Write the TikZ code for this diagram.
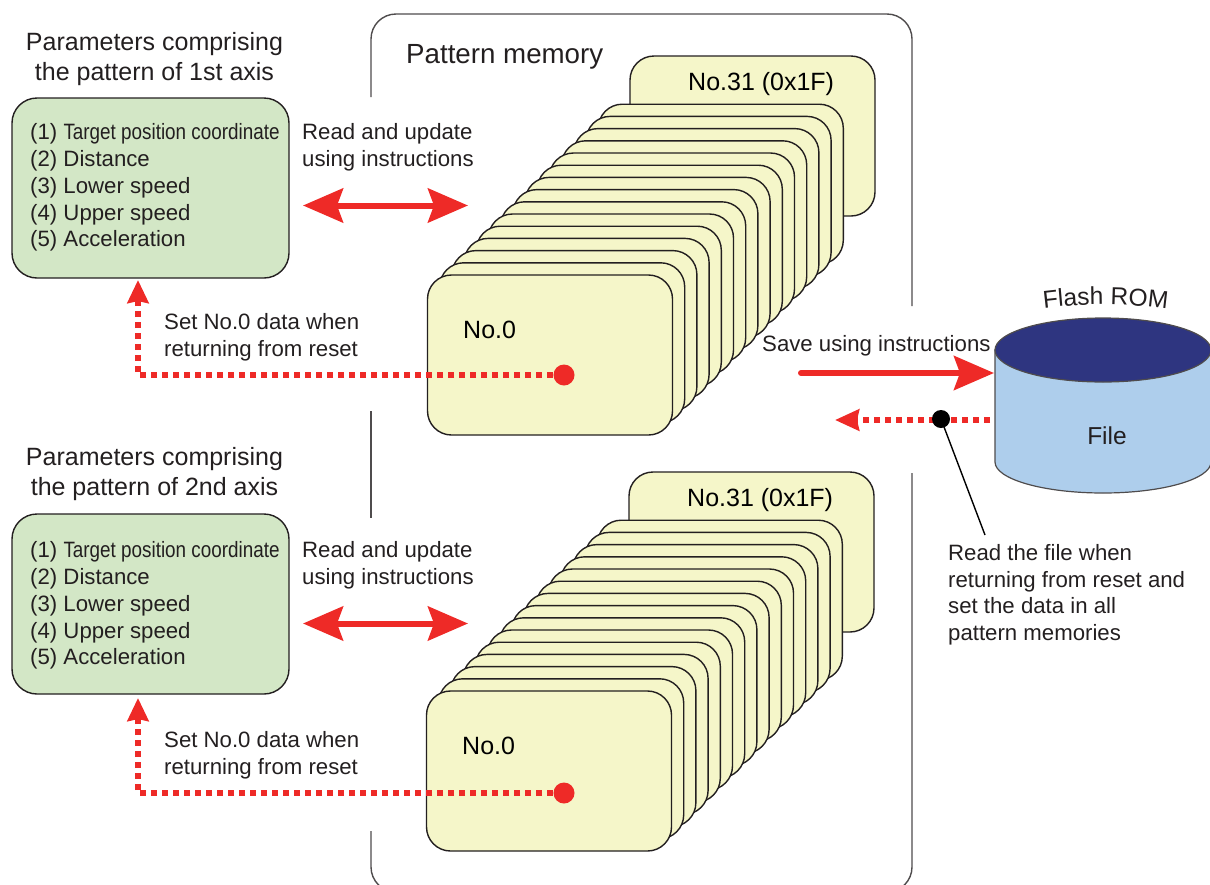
\documentclass[tikz,border=0pt]{standalone}
\usepackage{fontspec}
\usepackage{graphicx}
\setmainfont{Liberation Sans}
\usetikzlibrary{arrows.meta,decorations.text}
\definecolor{cardfill}{HTML}{F5F6C9}
\definecolor{paramfill}{HTML}{D3E7C6}
\definecolor{redline}{HTML}{EE2A27}
\definecolor{romside}{HTML}{AECEEC}
\definecolor{romtop}{HTML}{2E3580}
\definecolor{inkline}{HTML}{231F20}
\newcommand{\flashfont}{\fontsize{24.5}{24.5}\selectfont}
\tikzset{
    memcard/.style={draw=inkline, line width=1.4pt, fill=cardfill, rounded corners=24pt, minimum width=245pt, minimum height=160pt, inner sep=0pt, outer sep=0pt},
    parambox/.style={draw=inkline, line width=1.4pt, fill=paramfill, rounded corners=25pt, minimum width=277pt, minimum height=180pt, inner sep=0pt, outer sep=0pt},
    txt/.style={text=inkline, font=\fontsize{22.2}{26.8}\selectfont, align=left, inner sep=0pt},
    cardlabel/.style={text=black, font=\fontsize{25}{28}\selectfont, inner sep=0pt},
    title/.style={text=inkline, font=\fontsize{25}{30}\selectfont, align=center, inner sep=0pt},
    reddot/.style={circle, fill=redline, minimum size=21pt, inner sep=0pt},
    blackdot/.style={circle, fill=black, minimum size=18pt, inner sep=0pt},
    bigarrow/.style={draw=redline, line width=6pt, -{Stealth[length=40pt,width=34pt,inset=6pt]}},
    dotarrow/.style={draw=redline, line width=6pt, dash pattern=on 6pt off 5pt, -{Stealth[length=23pt,width=21pt,inset=2pt]}}
}
\begin{document}
\begin{tikzpicture}[x=1pt,y=-1pt]
    \path[use as bounding box,clip] (0,0) rectangle (1210,884);

    % Pattern memory frame
    \draw[draw=inkline!80, line width=1.4pt, rounded corners=25pt] (371,97) -- (371,14) -- (912,14) -- (912,306);
    \draw[draw=inkline!80, line width=1.4pt] (371,411) -- (371,518);
    \draw[draw=inkline!80, line width=1.4pt, rounded corners=25pt] (371,831) -- (371,892) -- (912,892) -- (912,473);
    \node[anchor=base west, text=inkline, font=\fontsize{27.7}{30}\selectfont, inner sep=0pt] (memtitle) at (406,63) {Pattern memory};

    % Both axes
    \foreach \ax/\ox/\oy/\oz/\ot/\nth in {A/0/0/0/0/1st, B/-1/416/418/415/2nd} {
        % Cards
        \node[memcard] (card\ax31) at (752.5+\ox,136+\oy) {};
        \foreach \i in {14,...,0} {
            \node[memcard] (card\ax\i) at (550+\ox+12.2*\i,355+\oy-12.2*\i) {};
        }
        \node[cardlabel, anchor=base west] (lab\ax31) at (688+\ox,90+\oy) {No.31 (0x1F)};
        \node[cardlabel, anchor=base west] (lab\ax0) at (463+\ox,338+\oy) {No.0};

        % Parameters
        \node[title] (title\ax) at (154.5,59.5+\ot) {Parameters comprising\\the pattern of \nth\ axis};
        \node[parambox] (params\ax) at (150.5,188+\oy) {};
        \node[txt, anchor=north west] (list\ax) at (30,123.5+\oz) {(1) \scalebox{0.85}[1]{Target position coordinate}\\(2) Distance\\(3) Lower speed\\(4) Upper speed\\(5) Acceleration};

        % Read and update
        \node[txt, anchor=north west] (update\ax) at (302,123.5+\oz) {Read and update\\using instructions};
        \coordinate (left\ax) at (303,205.5+\oz);
        \coordinate (right\ax) at (468,205.5+\oz);
        \draw[bigarrow, {Stealth[length=40pt,width=34pt,inset=6pt]}-{Stealth[length=40pt,width=34pt,inset=6pt]}] (left\ax) -- (right\ax);

        % Reset path
        \node[txt, anchor=north west] (reset\ax) at (164,313.5+\oz) {Set No.0 data when\\returning from reset};
        \node[reddot] (dot\ax) at (564,375+\oz) {};
        \coordinate (tip\ax) at (138,280+\oz);
        \draw[dotarrow] (dot\ax.center) -| (tip\ax);
    }

    % Flash ROM
    \draw[draw=inkline!80, line width=1.2pt, fill=romside] (995,350) -- (995,462) arc[x radius=108pt, y radius=31pt, start angle=180, end angle=360] -- (1211,350) -- cycle;
    \draw[draw=inkline!80, line width=1.2pt, fill=romtop] (1103,350) ellipse[x radius=108pt, y radius=32pt];
    \node[text=inkline, font=\fontsize{24.5}{28}\selectfont, anchor=base, inner sep=0pt] (filelab) at (1107,444) {File};
    \path[decorate, decoration={text along path, text align=center, text={|\flashfont\color{inkline}|Flash ROM}}] (1039,309) .. controls (1083,303) and (1128,303) .. (1172,309.5);

    % Save and read
    \node[txt, anchor=north west] (savelab) at (762,335) {Save using instructions};
    \coordinate (savefrom) at (801,373);
    \coordinate (saveto) at (994,373);
    \draw[bigarrow, line cap=round] (savefrom) -- (saveto);
    \coordinate (readfrom) at (990,420);
    \coordinate (readto) at (835,420);
    \draw[dotarrow, -{Stealth[length=24pt,width=21pt,inset=2pt]}] (readfrom) -- (readto);
    \node[blackdot] (readdot) at (941,419) {};
    \coordinate (leaderend) at (985,535);
    \draw[draw=black, line width=1.4pt] (readdot.center) -- (leaderend);
    \node[txt, anchor=north west] (readlab) at (948,544) {Read the file when\\returning from reset and\\set the data in all\\pattern memories};
\end{tikzpicture}
\end{document}
